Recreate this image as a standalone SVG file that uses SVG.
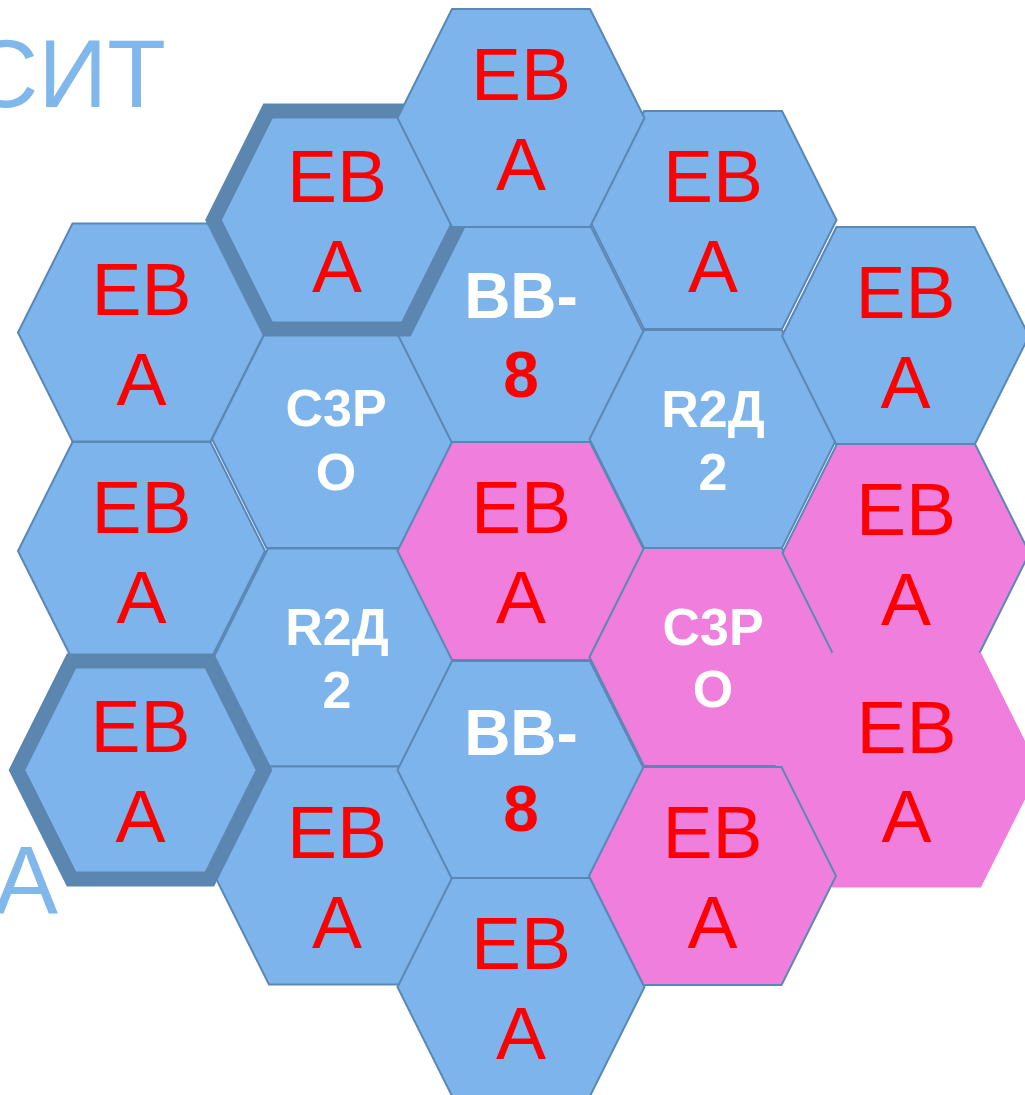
<svg xmlns="http://www.w3.org/2000/svg" width="1025" height="1095" viewBox="0 0 1025 1095">
<style>
.blue{fill:#7db4ec;stroke:#5a88b6;stroke-width:2}
.pink{fill:#f07edc;stroke:#5a88b6;stroke-width:2}
.pinkn{fill:#f07edc;stroke:none}
.thick{fill:#7db4ec;stroke:#5b86b0;stroke-width:15}
.ev{font-family:"Liberation Sans",Arial,sans-serif;font-size:75px;fill:#ff0000;text-anchor:middle}
.w{font-family:"Liberation Sans",Arial,sans-serif;font-size:52px;font-weight:bold;fill:#ffffff;text-anchor:middle}
.bb{font-family:"Liberation Sans",Arial,sans-serif;font-size:64px;font-weight:bold;fill:#ffffff;text-anchor:middle}
.r8{font-family:"Liberation Sans",Arial,sans-serif;font-size:64px;font-weight:bold;fill:#ff0000;text-anchor:middle}
.bg{font-family:"Liberation Sans",Arial,sans-serif;font-size:96px;fill:#80b8ec}
</style>
<defs>
<polygon id="h" points="-123.5,0 -69,-109 69,-109 123.5,0 69,109 -69,109"/>
</defs>
<rect width="1025" height="1095" fill="#ffffff"/>
<g id="bg-text-top"><text class="bg" x="166" y="107" text-anchor="end">СИТ</text></g>
<g id="bg-text-bottom"><text class="bg" x="58" y="913" text-anchor="end">А</text></g>

<g id="A1"><use href="#h" class="blue" x="141.5" y="332.5"/><text class="ev" x="141.5" y="314.5">ЕВ</text><text class="ev" x="141.5" y="404.5">А</text></g>
<g id="A2"><use href="#h" class="blue" x="141.5" y="551"/><text class="ev" x="141.5" y="533">ЕВ</text><text class="ev" x="141.5" y="623">А</text></g>
<g id="B1"><use href="#h" class="blue" x="335.5" y="439"/><text class="w" x="336" y="426">С3Р</text><text class="w" x="336" y="490">О</text></g>
<g id="B2"><use href="#h" class="blue" x="337" y="657.5"/><text class="w" x="337" y="645">R2Д</text><text class="w" x="337" y="708">2</text></g>
<g id="B3"><use href="#h" class="blue" x="338" y="875.5"/><text class="ev" x="337" y="857.5">ЕВ</text><text class="ev" x="337" y="947.5">А</text></g>
<g id="C1"><use href="#h" class="blue" x="521.5" y="335"/><text class="bb" x="521" y="318">ВВ-</text><text class="r8" x="521" y="397">8</text></g>
<g id="C2"><use href="#h" class="pink" x="521" y="551"/><text class="ev" x="521" y="533">ЕВ</text><text class="ev" x="521" y="623">А</text></g>
<g id="C3"><use href="#h" class="blue" x="521" y="770"/><text class="bb" x="521" y="755">ВВ-</text><text class="r8" x="521" y="831">8</text></g>
<g id="C4"><use href="#h" class="blue" x="521" y="987"/><text class="ev" x="521" y="969">ЕВ</text><text class="ev" x="521" y="1059">А</text></g>
<g id="D0"><use href="#h" class="blue" x="713" y="220"/><text class="ev" x="713" y="202">ЕВ</text><text class="ev" x="713" y="292">А</text></g>
<g id="D1"><use href="#h" class="blue" x="713" y="439"/><text class="w" x="713" y="427">R2Д</text><text class="w" x="713" y="490">2</text></g>
<g id="E1"><use href="#h" class="blue" x="905.5" y="336"/><text class="ev" x="905.5" y="318">ЕВ</text><text class="ev" x="905.5" y="408">А</text></g>
<g id="D2"><use href="#h" class="pink" x="713" y="657"/><text class="w" x="713" y="645">С3Р</text><text class="w" x="713" y="707">О</text></g>
<g id="E2"><use href="#h" class="pink" x="906" y="553"/><text class="ev" x="906" y="535">ЕВ</text><text class="ev" x="906" y="625">А</text></g>
<g id="E3"><use href="#h" class="pinkn" transform="translate(906.5,770) scale(1.078)"/><text class="ev" x="906.5" y="753">ЕВ</text><text class="ev" x="906.5" y="842">А</text></g>
<g id="D3"><use href="#h" class="pink" x="712.5" y="876"/><text class="ev" x="712.5" y="858">ЕВ</text><text class="ev" x="712.5" y="948">А</text></g>
<g id="B0"><use href="#h" class="thick" x="337" y="220"/><text class="ev" x="337" y="202">ЕВ</text><text class="ev" x="337" y="292">А</text></g>
<g id="C0"><use href="#h" class="blue" x="521" y="118"/><text class="ev" x="521" y="100">ЕВ</text><text class="ev" x="521" y="190">А</text></g>
<g id="A3"><use href="#h" class="thick" x="140.5" y="770"/><text class="ev" x="140.5" y="752">ЕВ</text><text class="ev" x="140.5" y="842">А</text></g>
</svg>
